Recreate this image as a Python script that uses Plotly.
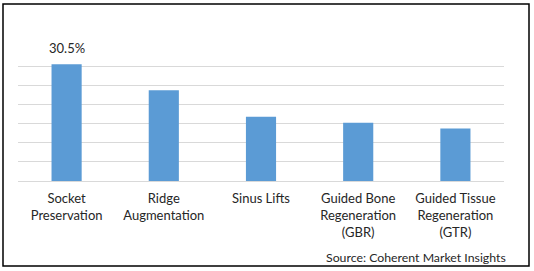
import plotly.graph_objects as go

categories = [
    "Socket<br>Preservation",
    "Ridge<br>Augmentation",
    "Sinus Lifts",
    "Guided Bone<br>Regeneration<br>(GBR)",
    "Guided Tissue<br>Regeneration<br>(GTR)",
]
values = [30.5, 23.7, 16.8, 15.2, 13.7]
labels = ["30.5%", "", "", "", ""]

W, H = 534, 271
ml, mr, mt, mb = 18, 30, 47, 90
pw = W - ml - mr
ph = H - mt - mb
FONT = "Lato, Liberation Sans, sans-serif"
TXT = "#262626"

def px_x(p):
    return (p - ml) / pw

def px_y(p):
    return (H - mb - p) / ph

fig = go.Figure(
    go.Bar(
        x=categories,
        y=values,
        marker=dict(color="#5B9BD5", line=dict(width=0)),
        cliponaxis=False,
    )
)

annotations = [
    dict(
        text=t,
        x=c,
        y=v,
        xref="x",
        yref="y",
        yanchor="bottom",
        yshift=6,
        showarrow=False,
        font=dict(size=13, color=TXT, family=FONT),
    )
    for c, v, t in zip(categories, values, labels)
    if t
]
annotations.append(
    dict(
        text="Source: Coherent Market Insights",
        xref="paper",
        yref="paper",
        x=px_x(508),
        y=px_y(257.5),
        xanchor="right",
        yanchor="middle",
        showarrow=False,
        font=dict(size=12.3, color=TXT, family=FONT),
    )
)

fig.update_layout(
    width=W,
    height=H,
    margin=dict(l=ml, r=mr, t=mt, b=mb),
    paper_bgcolor="white",
    plot_bgcolor="white",
    bargap=0.69,
    showlegend=False,
    font=dict(family=FONT, size=13, color=TXT),
    xaxis=dict(
        showgrid=False,
        showline=False,
        ticks="",
        ticklabelstandoff=8,
        tickfont=dict(size=13, color=TXT, family=FONT),
    ),
    yaxis=dict(
        range=[0, 35],
        dtick=5,
        showgrid=True,
        gridcolor="#D9D9D9",
        gridwidth=1,
        showticklabels=False,
        zeroline=True,
        zerolinecolor="#D9D9D9",
        zerolinewidth=1,
    ),
    shapes=[
        dict(
            type="rect",
            xref="paper",
            yref="paper",
            x0=px_x(3),
            x1=px_x(529),
            y0=px_y(266),
            y1=px_y(4),
            line=dict(color="black", width=1.5),
            fillcolor="rgba(0,0,0,0)",
            layer="above",
        )
    ],
    annotations=annotations,
)

fig.write_html("out.html")
